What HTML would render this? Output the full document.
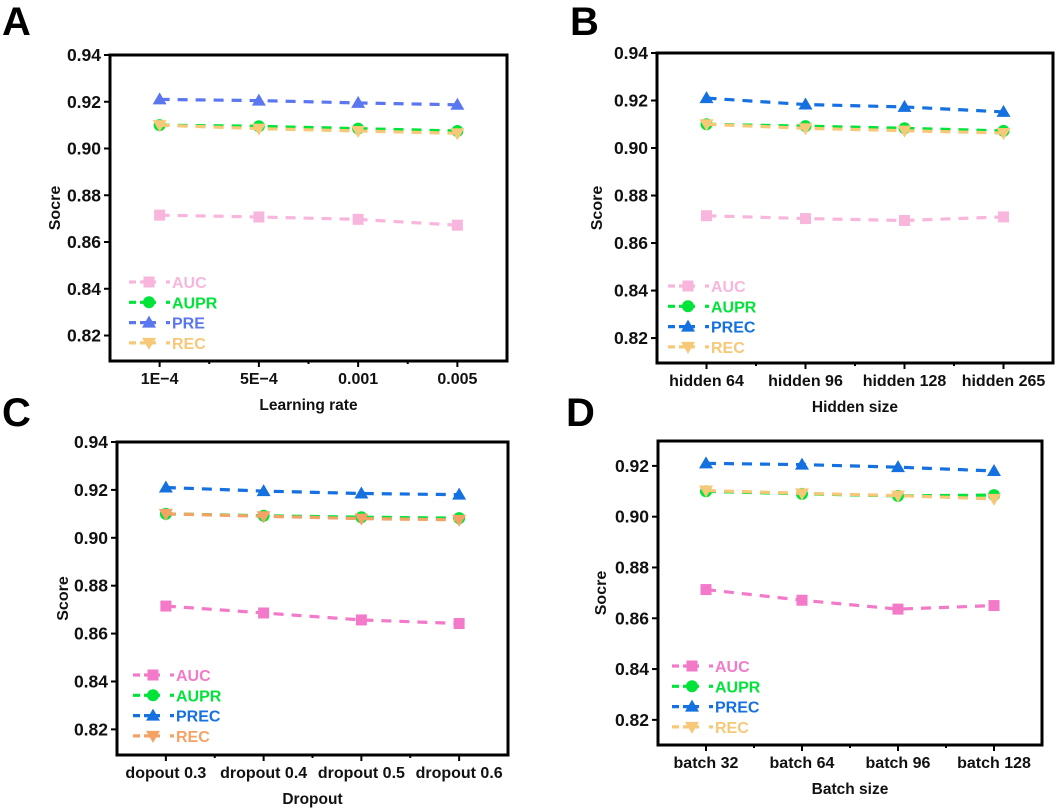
<!DOCTYPE html>
<html><head><meta charset="utf-8"><style>
html,body{margin:0;padding:0;background:#fff;}
svg{display:block;font-family:"Liberation Sans",Arial,sans-serif;font-weight:bold;}
</style></head><body>
<svg id="fig" width="1059" height="811" viewBox="0 0 1059 811" xmlns="http://www.w3.org/2000/svg"></svg>
<script>
const NS="http://www.w3.org/2000/svg";
const svg=document.getElementById('fig');
// ---- data ----
const catsA=["1E\u22124","5E\u22124","0.001","0.005"];
const catsB=["hidden 64","hidden 96","hidden 128","hidden 265"];
const catsC=["dopout 0.3","dropout 0.4","dropout 0.5","dropout 0.6"];
const catsD=["batch 32","batch 64","batch 96","batch 128"];
const yTicksABC=[0.82,0.84,0.86,0.88,0.90,0.92,0.94];
const yTicksD=[0.82,0.84,0.86,0.88,0.90,0.92];
const seriesNamesA=["AUC","AUPR","PRE","REC"];
const seriesNamesBCD=["AUC","AUPR","PREC","REC"];
const aucA=[0.8715,0.8707,0.8697,0.8672];
const auprA=[0.910,0.9095,0.9085,0.9075];
const preA=[0.921,0.9205,0.9195,0.9187];
const recA=[0.910,0.9085,0.9075,0.9065];
const aucB=[0.8715,0.8703,0.8695,0.8710];
const auprB=[0.910,0.9092,0.9083,0.9072];
const precB=[0.921,0.9183,0.9173,0.9152];
const recB=[0.910,0.9083,0.9073,0.9063];
const aucC=[0.8715,0.8686,0.8657,0.8642];
const auprC=[0.910,0.9092,0.9086,0.9082];
const precC=[0.921,0.9195,0.9185,0.918];
const recC=[0.910,0.909,0.908,0.9075];
const aucD=[0.8713,0.8671,0.8636,0.8650];
const auprD=[0.910,0.909,0.9082,0.9085];
const precD=[0.921,0.9205,0.9195,0.918];
const recD=[0.9103,0.9092,0.9083,0.907];

function el(tag,attrs,parent){const e=document.createElementNS(NS,tag);for(const k in attrs)e.setAttribute(k,attrs[k]);(parent||svg).appendChild(e);return e;}
function txt(s,attrs,parent){const e=el('text',attrs,parent);e.textContent=s;return e;}

function marker(g,shape,x,y,c){
  let m;
  if(shape==='sq') m=el('rect',{x:x-5.5,y:y-5.5,width:11,height:11,fill:c},g);
  else if(shape==='ci') m=el('circle',{cx:x,cy:y,r:6,fill:c},g);
  else if(shape==='up') m=el('polygon',{points:`${x-7},${y+5} ${x+7},${y+5} ${x},${y-7}`,fill:c},g);
  else m=el('polygon',{points:`${x-7},${y-5} ${x+7},${y-5} ${x},${y+7}`,fill:c},g);
  return m;
}

function panel(p){
  const g=el('g',{});
  
  
  const y=v=>p.y0+(v-p.vTop)*(p.y1-p.y0)/(p.vBot-p.vTop);
  const x=i=>p.x0+(i+0.5)*(p.x1-p.x0)/4;
  const L=txt(p.letter,{x:p.lx,y:p.ly,'font-size':40,fill:'#000'},g);
  
  p.yticks.forEach(t=>{
    const ty=y(t);
    el('line',{x1:p.x0-6,x2:p.x0,y1:ty,y2:ty,stroke:'#000','stroke-width':2},g);
    const tl=txt(t.toFixed(2),{x:p.x0-9,y:ty+6,'font-size':17.5,'text-anchor':'end',fill:'#111'},g);
    
  });
  p.cats.forEach((c,i)=>{
    el('line',{x1:x(i),x2:x(i),y1:p.y1,y2:p.y1+6,stroke:'#000','stroke-width':2},g);
    if(i<3){const xm=x(i+0.5);el('line',{x1:xm,x2:xm,y1:p.y1,y2:p.y1+3,stroke:'#000','stroke-width':2},g);}
    const tl=txt(c,{x:x(i),y:p.y1+23,'font-size':16,'text-anchor':'middle',fill:'#111'},g);
    
  });
  const shapes=['sq','ci','up','dn'];
  p.series.forEach((s,si)=>{
    const sg=el('g',{},g);
    
    
    const pts=s.map((v,i)=>x(i)+','+y(v)).join(' ');
    el('polyline',{points:pts,fill:'none',stroke:p.colors[si],'stroke-width':3.2,'stroke-dasharray':'10,8'},sg);
    s.forEach((v,i)=>{const m=marker(sg,shapes[si],x(i),y(v),p.colors[si]);
      });
  });
  el('rect',{x:p.x0,y:p.y0,width:p.x1-p.x0,height:p.y1-p.y0,fill:'none',stroke:'#000','stroke-width':3},g);
  const lg=el('g',{},g);
  
  p.names.forEach((n,i)=>{
    const ly=p.legY+i*20.3;
    const e=el('g',{},lg);
    
    el('line',{x1:p.legX,x2:p.legX+27,y1:ly,y2:ly,stroke:p.colors[i],'stroke-width':3.2,'stroke-dasharray':'7,4'},e);
    marker(e,shapes[i],p.legX+20,ly,p.colors[i]);
    el('line',{x1:p.legX+37,x2:p.legX+41,y1:ly,y2:ly,stroke:p.colors[i],'stroke-width':3.2},e);
    txt(n,{x:p.legX+43,y:ly+6,'font-size':16,fill:p.colors[i]},e);
  });
  const xt=txt(p.xtitle,{x:(p.x0+p.x1)/2,y:p.y1+49,'font-size':15.5,'text-anchor':'middle',fill:'#111'},g);
  
  const yt=txt(p.ytitle,{x:0,y:0,'font-size':16,'text-anchor':'middle',fill:'#111',transform:`translate(${p.ytx},${(p.y0+p.y1)/2}) rotate(-90)`},g);
  
}

panel({name:'panel-a-learning-rate',letter:'A',lx:2,ly:35,x0:110,x1:507,y0:55,y1:361,vTop:0.94,vBot:0.8091,
  yticks:yTicksABC,cats:catsA,names:seriesNamesA,series:[aucA,auprA,preA,recA],
  colors:['#f8b6dc','#00e43a','#5b77f0','#f6c878'],legX:129,legY:282,xtitle:'Learning rate',ytitle:'Socre',ytx:60});
panel({name:'panel-b-hidden-size',letter:'B',lx:570,ly:35,x0:657,x1:1053,y0:53,y1:363,vTop:0.94,vBot:0.8095,
  yticks:yTicksABC,cats:catsB,names:seriesNamesBCD,series:[aucB,auprB,precB,recB],
  colors:['#f8b6dc','#00e43a','#1570e0','#f6c878'],legX:668,legY:286,xtitle:'Hidden size',ytitle:'Score',ytx:602});
panel({name:'panel-c-dropout',letter:'C',lx:2,ly:426,x0:117,x1:508,y0:442,y1:755,vTop:0.94,vBot:0.8093,
  yticks:yTicksABC,cats:catsC,names:seriesNamesBCD,series:[aucC,auprC,precC,recC],
  colors:['#f27ac8','#00e43a','#1570e0','#f5a266'],legX:133,legY:675,xtitle:'Dropout',ytitle:'Score',ytx:68});
panel({name:'panel-d-batch-size',letter:'D',lx:566,ly:426,x0:658,x1:1042,y0:441,y1:745,vTop:0.9298,vBot:0.8101,
  yticks:yTicksD,cats:catsD,names:seriesNamesBCD,series:[aucD,auprD,precD,recD],
  colors:['#f27ac8','#00e43a','#1570e0','#f6c878'],legX:672,legY:666,xtitle:'Batch size',ytitle:'Socre',ytx:606});
</script>
</body></html>
